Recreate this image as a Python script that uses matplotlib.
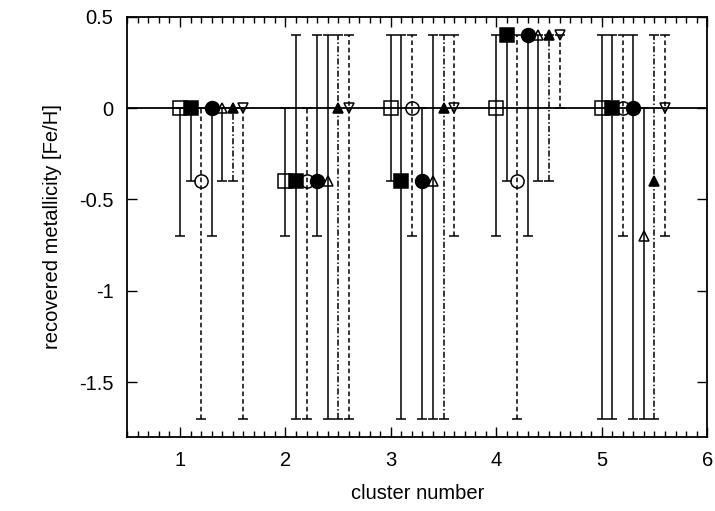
import matplotlib
matplotlib.use("Agg")
import matplotlib.pyplot as plt
from matplotlib.ticker import MultipleLocator
import numpy as np

plt.rcParams["font.family"] = ["Liberation Sans", "DejaVu Sans"]

# cluster numbers and per-series horizontal shift
clusters = np.array([1, 2, 3, 4, 5])
offsets = [0.0, 0.1, 0.2, 0.3, 0.4, 0.5, 0.6]

# recovered [Fe/H] per series, and the lower/upper ends of its range
sq_open = [0, -0.4, 0, 0, 0]
sq_open_lo = [-0.7, -0.7, -0.4, -0.7, -1.7]
sq_open_hi = [0, 0, 0.4, 0.4, 0.4]

sq_fill = [0, -0.4, -0.4, 0.4, 0]
sq_fill_lo = [-0.4, -1.7, -1.7, -0.4, -1.7]
sq_fill_hi = [0, 0.4, 0.4, 0.4, 0.4]

circ_open = [-0.4, -0.4, 0, -0.4, 0]
circ_open_lo = [-1.7, -1.7, -0.7, -1.7, -0.7]
circ_open_hi = [0, 0, 0.4, 0.4, 0.4]

circ_fill = [0, -0.4, -0.4, 0.4, 0]
circ_fill_lo = [-0.7, -0.7, -1.7, -0.7, -1.7]
circ_fill_hi = [0, 0.4, 0, 0.4, 0.4]

tri_open = [0, -0.4, -0.4, 0.4, -0.7]
tri_open_lo = [-0.4, -1.7, -1.7, -0.4, -1.7]
tri_open_hi = [0, 0.4, 0.4, 0.4, 0]

tri_fill = [0, 0, 0, 0.4, -0.4]
tri_fill_lo = [-0.4, -1.7, -1.7, -0.4, -1.7]
tri_fill_hi = [0, 0.4, 0.4, 0.4, 0.4]

itri_open = [0, 0, 0, 0.4, 0]
itri_open_lo = [-1.7, -1.7, -0.7, 0, -0.7]
itri_open_hi = [0, 0.4, 0.4, 0.4, 0.4]

series = [
    (sq_open, sq_open_lo, sq_open_hi, "s", "none", "-", 10),
    (sq_fill, sq_fill_lo, sq_fill_hi, "s", "black", "-", 10),
    (circ_open, circ_open_lo, circ_open_hi, "o", "none", (0, (3, 2)), 9.5),
    (circ_fill, circ_fill_lo, circ_fill_hi, "o", "black", "-", 10),
    (tri_open, tri_open_lo, tri_open_hi, "^", "none", "-", 7),
    (tri_fill, tri_fill_lo, tri_fill_hi, "^", "black", (0, (4, 1.5, 1, 1.5)), 7),
    (itri_open, itri_open_lo, itri_open_hi, "v", "none", (0, (3, 2)), 7),
]

fig = plt.figure(figsize=(7.15, 5.11), dpi=100)
ax = fig.add_axes([0.178, 0.145, 0.811, 0.822])

ax.axhline(0, color="black", lw=1.3, zorder=1)

for (vals, lo, hi, mk, fc, ls, ms), off in zip(series, offsets):
    x = clusters + off
    v = np.array(vals)
    yerr = [v - np.array(lo), np.array(hi) - v]
    _, caps, bars = ax.errorbar(x, v, yerr=yerr, fmt=mk, ms=ms, mfc=fc,
                                mec="black", mew=1.1, ecolor="black",
                                elinewidth=1.1, capsize=3.5, capthick=1.1,
                                zorder=3)
    for b in bars:
        b.set_linestyle(ls)

ax.set_xlim(0.5, 6)
ax.set_ylim(-1.8, 0.5)
ax.xaxis.set_minor_locator(MultipleLocator(0.1))
ax.set_yticks([0.5, 0, -0.5, -1, -1.5])
ax.set_yticklabels(["0.5", "0", "-0.5", "-1", "-1.5"])
ax.set_xticks([1, 2, 3, 4, 5, 6])
ax.set_xticklabels(["1", "2", "3", "4", "5", "6"])
ax.tick_params(which="both", direction="in", top=True, right=True,
               labelsize=14.5, pad=10)
ax.tick_params(which="major", length=7, width=1)
ax.tick_params(which="minor", length=4, width=1)
for s in ax.spines.values():
    s.set_linewidth(1.3)

ax.set_xlabel("cluster number", fontsize=14.5, labelpad=10)
ax.set_ylabel("recovered metallicity [Fe/H]", fontsize=14.5, labelpad=12)

fig.savefig("out.png", dpi=100)
